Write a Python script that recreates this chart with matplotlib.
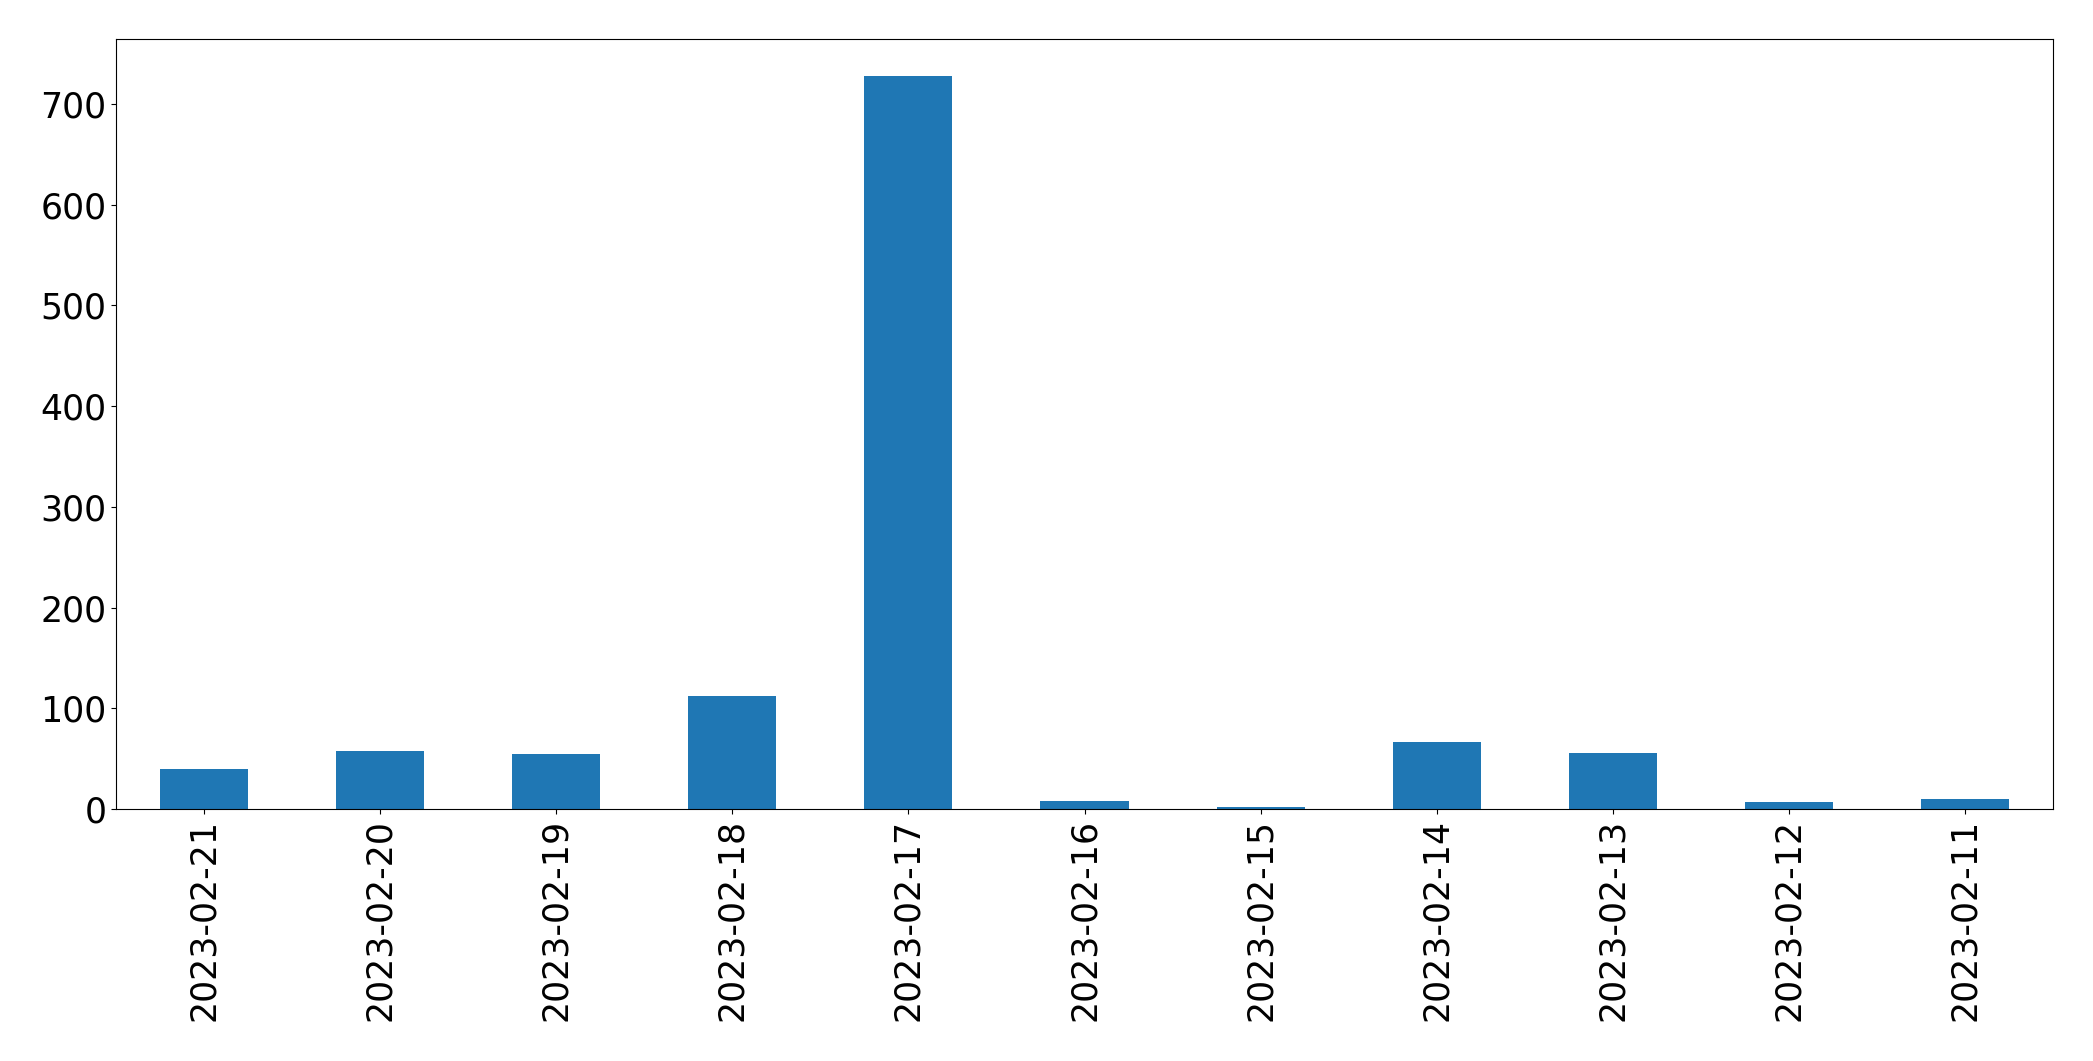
import matplotlib
matplotlib.use("Agg")
import matplotlib.pyplot as plt
import numpy as np

dates = ["2023-02-21", "2023-02-20", "2023-02-19", "2023-02-18", "2023-02-17",
         "2023-02-16", "2023-02-15", "2023-02-14", "2023-02-13", "2023-02-12",
         "2023-02-11"]
counts = [40, 58, 55, 112, 728, 8, 2, 67, 56, 7, 10]

fig = plt.figure(figsize=(20.93, 10.61), dpi=100)
ax = fig.add_axes([116/2093, 1 - 809/1061, (2053-116)/2093, (809-39)/1061])
x = np.arange(len(dates))
ax.bar(x, counts, width=0.5, color="#1f77b4")
ax.set_xlim(-0.5, len(dates) - 0.5)
ax.set_xticks(x)
ax.set_xticklabels(dates, rotation=90)
ax.tick_params(labelsize=25)
fig.savefig("out.png", dpi=100)
